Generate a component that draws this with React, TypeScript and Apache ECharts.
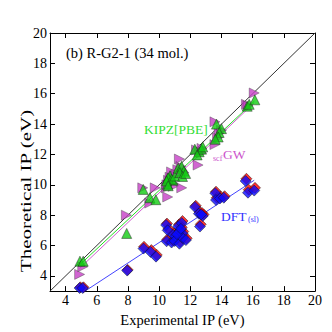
import React, { useEffect, useRef } from "react";
import * as echarts from "echarts";

const axisTicks = [4, 6, 8, 10, 12, 14, 16, 18, 20];

const kipzPoints: [number, number][] = [
  [4.92, 4.97], [5.13, 4.97], [7.92, 6.8], [8.98, 9.7], [9.41, 9.15], [9.79, 9.02],
  [10.54, 10.4], [10.54, 10.05], [10.7, 10.58], [10.9, 10.3], [10.58, 10.47], [10.8, 10.37],
  [11.01, 10.58], [10.48, 10.26], [10.58, 9.94], [11.22, 11.1], [11.44, 11.22], [11.59, 10.9],
  [11.33, 10.8], [11.5, 10.55], [11.7, 10.75], [12.29, 12.35], [12.57, 12.18], [12.72, 12.35],
  [12.44, 11.97], [12.8, 12.5], [13.68, 14.0], [14.0, 13.7], [13.85, 13.45], [13.79, 13.15],
  [13.6, 13.0], [15.65, 15.18], [15.78, 15.3], [16.14, 15.6],
];

const scfgwPoints: [number, number][] = [
  [4.9, 4.1], [5.1, 4.6], [7.9, 8.0], [8.95, 9.8], [9.4, 8.8], [9.75, 9.8],
  [10.45, 9.8], [10.55, 9.2], [10.9, 9.9], [11.45, 9.8], [10.8, 10.85], [11.3, 11.7],
  [12.5, 11.3], [12.4, 12.3], [10.6, 10.3], [11.0, 10.6], [11.2, 11.0], [11.5, 10.9],
  [10.7, 10.5], [11.4, 11.2], [11.1, 10.7], [12.6, 12.2], [12.75, 12.4], [13.58, 14.15],
  [13.58, 12.65], [13.85, 13.4], [14.0, 13.6], [13.75, 13.1], [15.6, 15.3], [15.7, 15.2],
  [16.1, 16.05], [10.5, 10.0], [11.6, 10.8], [12.7, 12.1],
];

const dftRedPoints: [number, number][] = [
  [4.95, 3.25], [5.15, 3.25], [7.98, 4.4], [9.03, 5.92], [9.5, 5.7], [9.85, 5.38],
  [10.5, 7.45], [10.6, 7.1], [10.52, 6.4], [10.85, 6.32], [10.95, 6.82], [11.1, 6.72],
  [11.05, 6.4], [11.35, 6.25], [11.27, 7.38], [11.5, 7.62], [11.38, 7.05], [11.55, 6.92],
  [11.55, 6.6], [11.77, 6.48], [11.2, 6.85], [11.45, 7.2], [12.35, 8.62], [12.6, 8.22],
  [12.67, 7.4], [12.85, 8.05], [13.65, 9.55], [13.7, 9.15], [13.95, 9.22], [14.2, 9.25],
  [15.6, 10.4], [15.75, 9.68], [16.15, 9.8], [12.75, 8.15],
];

const dftBluePoints: [number, number][] = [
  [4.9, 3.2], [5.1, 3.2], [7.95, 4.35], [9.0, 5.8], [9.45, 5.58], [9.8, 5.27],
  [10.45, 7.35], [10.55, 7.0], [10.48, 6.28], [10.8, 6.2], [10.9, 6.7], [11.05, 6.6],
  [11.0, 6.3], [11.3, 6.12], [11.22, 7.25], [11.45, 7.48], [11.33, 6.95], [11.5, 6.8],
  [11.5, 6.5], [11.72, 6.36], [11.15, 6.75], [11.4, 7.1], [12.3, 8.54], [12.55, 8.1],
  [12.62, 7.25], [12.8, 7.95], [13.6, 9.45], [13.65, 9.0], [13.9, 9.1], [14.15, 9.15],
  [15.55, 10.25], [15.7, 9.48], [16.1, 9.62], [12.7, 8.05],
];

const identityLine: [number, number][] = [[3, 3], [20, 20]];
const kipzFit: [number, number][] = [[4.9, 4.72], [16.1, 15.5]];
const scfgwFit: [number, number][] = [[4.9, 4.5], [16.1, 15.4]];
const dftFit: [number, number][] = [[5.25, 3.0], [16.1, 10.3]];

const FONT = "'Liberation Serif', 'Times New Roman', serif";
const GREEN = "#11cc11";
const MAGENTA = "#c63fc6";
const BLUE = "#0a0aff";
const RED = "#ff0000";

export default function App() {
  const ref = useRef<HTMLDivElement>(null);
  useEffect(() => {
    if (!ref.current) return;
    document.body.style.margin = "0";
    const chart = echarts.init(ref.current, null, { renderer: "svg" });
    const baseX = {
      type: "value" as const,
      min: 3,
      max: 20,
      axisLine: { show: true, lineStyle: { color: "#000", width: 1 } },
      axisTick: { show: true, inside: true, length: 5, customValues: axisTicks, lineStyle: { color: "#000" } },
      splitLine: { show: false },
    };
    const lineSeries = (data: [number, number][], color: string, width = 1) => ({
      type: "line",
      data,
      showSymbol: false,
      symbol: "none",
      lineStyle: { color, width },
      silent: true,
      z: 1,
    });
    chart.setOption({
      animation: false,
      backgroundColor: "#fff",
      grid: { left: 50, right: 17, top: 33, bottom: 34 },
      xAxis: [
        {
          ...baseX,
          position: "bottom",
          axisLabel: { customValues: axisTicks, color: "#000", fontSize: 14, fontFamily: FONT, margin: 2 },
          name: "Experimental IP (eV)",
          nameLocation: "middle",
          nameGap: 12,
          nameTextStyle: { color: "#000", fontSize: 14.5, fontFamily: FONT, verticalAlign: "top" },
        },
        { ...baseX, position: "top", axisLabel: { show: false } },
      ],
      yAxis: [
        {
          ...baseX,
          position: "left",
          axisLabel: { customValues: axisTicks, color: "#000", fontSize: 14, fontFamily: FONT, margin: 3 },
        },
        { ...baseX, position: "right", axisLabel: { show: false } },
      ],
      series: [
        lineSeries(identityLine, "#333", 1),
        lineSeries(kipzFit, "#22dd22", 1),
        lineSeries(scfgwFit, "#d060d0", 1),
        lineSeries(dftFit, "#4444ff", 1),
        {
          type: "scatter",
          data: scfgwPoints,
          symbol: "triangle",
          symbolRotate: -90,
          symbolSize: 10,
          itemStyle: { color: MAGENTA, borderColor: "#444", borderWidth: 0.5 },
          z: 2,
        },
        {
          type: "scatter",
          data: kipzPoints,
          symbol: "triangle",
          symbolSize: 10,
          itemStyle: { color: GREEN, borderColor: "#222", borderWidth: 0.6 },
          z: 3,
        },
        {
          type: "scatter",
          data: dftRedPoints,
          symbol: "diamond",
          symbolSize: 11,
          itemStyle: { color: RED, borderColor: "#111", borderWidth: 0.6 },
          z: 4,
        },
        {
          type: "scatter",
          data: dftBluePoints,
          symbol: "diamond",
          symbolSize: 11,
          itemStyle: { color: BLUE, borderColor: "#111", borderWidth: 0.6 },
          z: 5,
        },
      ],
      graphic: [
        {
          type: "text", x: 26, y: 191, rotation: Math.PI / 2, scaleX: 1.5,
          style: { text: "Theoretical IP (eV)", fontSize: 14, fontFamily: FONT, fill: "#000", align: "center", verticalAlign: "middle" },
        },
        { type: "text", left: 66, top: 45, style: { text: "(b) R-G2-1 (34 mol.)", fontSize: 14.5, fontFamily: FONT, fill: "#000" } },
        { type: "text", left: 144, top: 122, style: { text: "KIPZ[PBE]", fontSize: 13.5, fontFamily: FONT, fill: "#33dd33" } },
        { type: "text", left: 213, top: 154, style: { text: "scf", fontSize: 8, fontFamily: FONT, fill: "#cc55cc" } },
        { type: "text", left: 223, top: 147, style: { text: "GW", fontSize: 13.5, fontFamily: FONT, fill: "#cc55cc" } },
        { type: "text", left: 221, top: 209, style: { text: "DFT", fontSize: 13.5, fontFamily: FONT, fill: "#3333ff" } },
        { type: "text", left: 248, top: 215, style: { text: "(sl)", fontSize: 8, fontFamily: FONT, fill: "#3333ff" } },
      ],
    });
    return () => chart.dispose();
  }, []);
  return <div ref={ref} style={{ width: 332, height: 332 }} />;
}
